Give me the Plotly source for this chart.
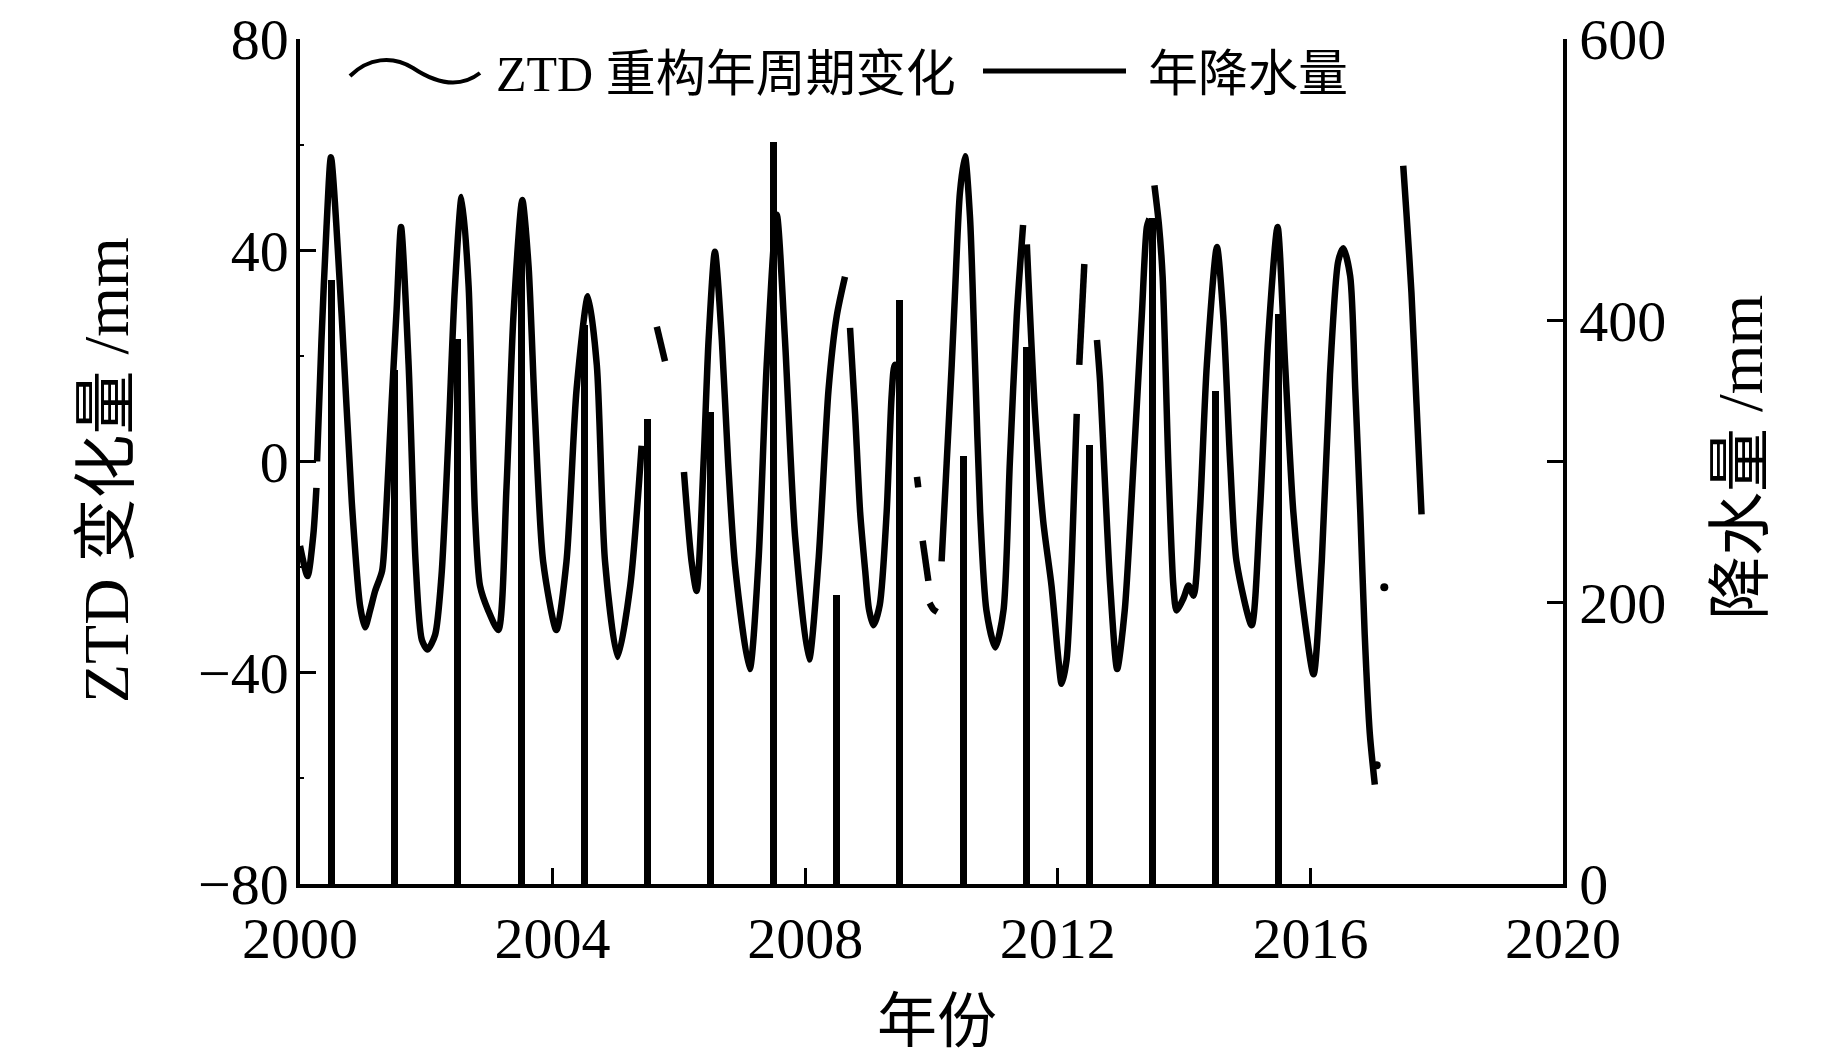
import plotly.graph_objects as go

# annual precipitation (right axis, mm), one bar per year at mid-year
years = list(range(2000, 2016))
precip = [429, 365, 387, 475, 397, 330, 335, 527, 205, 415, 304, 381, 312, 473, 350, 405]

# reconstructed annual ZTD signal (left axis, mm); None marks a data gap
ztd_year = [
    2000.00, 2000.12, 2000.21, 2000.26, None,
    2000.27, 2000.34, 2000.42, 2000.49, 2000.66, 2000.82, 2000.95, 2001.03, 2001.11,
    2001.19, 2001.30, 2001.36, 2001.45, 2001.53, 2001.60, 2001.72, 2001.83, 2001.93,
    2002.02, 2002.14, 2002.24, 2002.35, 2002.45, 2002.56, 2002.67, 2002.77, 2002.85,
    2002.98, 2003.14, 2003.27, 2003.38, 2003.52, 2003.62, 2003.72, 2003.85, 2004.06,
    2004.22, 2004.38, 2004.56, 2004.70, 2004.83, 2005.03, 2005.23, 2005.41, None,
    2005.65, 2005.78, None,
    2006.08, 2006.20, 2006.28, 2006.39, 2006.47, 2006.57, 2006.68, 2006.78, 2006.89,
    2007.12, 2007.26, 2007.39, 2007.55, 2007.68, 2007.84, 2008.06, 2008.21, 2008.37,
    2008.50, 2008.63, None,
    2008.71, 2008.79, 2008.87, 2008.95, 2009.01, 2009.08, 2009.18, 2009.29, 2009.37,
    2009.42, 2009.47, None,
    2009.77, 2009.79, None,
    2009.86, 2009.95, None,
    2009.97, 2010.03, 2010.09, None,
    2010.16, 2010.24, 2010.32, 2010.37, 2010.45, 2010.53, 2010.61, 2010.69, 2010.77,
    2010.87, 2011.01, 2011.14, 2011.24, 2011.35, 2011.45, None,
    2011.51, 2011.64, 2011.77, 2011.90, 2012.01, 2012.06, 2012.14, 2012.22, 2012.30, None,
    2012.34, 2012.42, None,
    2012.62, 2012.67, 2012.75, 2012.83, 2012.94, 2013.06, 2013.20, 2013.33, 2013.41,
    2013.45, None,
    2013.53, 2013.60, 2013.66, 2013.75, 2013.83, 2013.88, 2013.99, 2014.07, 2014.15,
    2014.25, 2014.36, 2014.52, 2014.62, 2014.73, 2014.83, 2015.07, 2015.20, 2015.33,
    2015.48, 2015.60, 2015.73, 2015.89, 2016.05, 2016.18, 2016.31, 2016.44, 2016.52,
    2016.63, 2016.71, 2016.79, 2016.86, 2016.94, 2017.02, None,
    2017.47, 2017.52, 2017.60, 2017.68, 2017.76,
]
ztd_value = [
    -16.0, -21.7, -14.0, -5.0, None,
    0.0, 23.0, 44.4, 57.6, 27.6, -7.7, -27.2, -31.4, -28.2,
    -24.5, -20.7, -10.5, 10.9, 28.8, 44.4, 18.3, -18.9, -33.8,
    -35.6, -32.8, -21.7, 4.4, 32.3, 50.1, 33.2, -9.6, -23.5,
    -28.2, -31.9, -4.9, 27.6, 49.5, 36.9, 9.0, -18.9, -31.9,
    -18.9, 13.7, 31.3, 18.3, -18.9, -37.0, -23.5, 3.0, None,
    25.5, 19.0, None,
    -2.0, -18.9, -24.5, -0.3, 23.0, 39.7, 23.0, -0.3, -19.8,
    -39.3, -18.9, 18.3, 46.7, 23.0, -14.2, -37.5, -18.9, 13.7,
    27.6, 35.0, None,
    25.3, 9.0, -9.6, -20.7, -28.0, -31.0, -27.2, -9.6, 12.7,
    18.3, 18.0, None,
    -2.9, -4.9, None,
    -15.0, -22.6, None,
    -26.8, -28.0, -28.5, None,
    -18.9, -0.3, 18.3, 31.3, 50.9, 57.8, 46.2, 18.3, -9.6,
    -28.2, -35.2, -28.2, -0.3, 27.6, 44.8, None,
    41.1, 9.0, -11.4, -23.5, -37.5, -42.1, -37.5, -18.9, 9.0, None,
    18.3, 37.4, None,
    23.0, 15.0, -4.9, -23.5, -39.3, -28.2, -0.3, 27.6, 44.4,
    46.0, None,
    52.3, 45.0, 35.0, -0.3, -23.5, -28.2, -25.9, -23.5, -25.4,
    -9.6, 18.3, 40.6, 27.6, -0.3, -18.9, -31.0, -9.6, 23.0,
    44.4, 18.3, -9.6, -28.2, -40.3, -18.9, 16.5, 37.9, 40.4,
    35.1, 13.7, -9.6, -32.8, -51.4, -61.2, None,
    56.0, 47.2, 32.0, 11.0, -10.0,
]

# isolated single samples
ztd_dot_year = [2017.05, 2017.17]
ztd_dot_value = [-57.5, -23.8]

FONT = "Liberation Serif, Noto Sans CJK SC"
# the page body adds an 8 px margin, so the figure is built 8 px smaller/shifted
PAD = 8
W, H = 1843 - 2 * PAD, 1063 - 2 * PAD
# plot-area edges in screen pixels
L, R, T, B = 300, 1563, 39, 884


def px(fx):
    return (fx - L) / (R - L)


def py(fy):
    return (B - fy) / (B - T)


fig = go.Figure()

fig.add_trace(go.Bar(
    x=[y + 0.5 for y in years], y=precip, yaxis="y2", width=0.11,
    marker=dict(color="black", line=dict(width=0)), showlegend=False,
))
fig.add_trace(go.Scatter(
    x=ztd_year, y=ztd_value, mode="lines",
    line=dict(color="black", width=6.5, shape="spline", smoothing=0.7),
    connectgaps=False, showlegend=False,
))
fig.add_trace(go.Scatter(
    x=ztd_dot_year, y=ztd_dot_value, mode="markers",
    marker=dict(color="black", size=8), showlegend=False,
))

# hand-drawn legend: wavy glyph + straight glyph
wave_pts = [(350, 76), (368, 58), (392, 55), (413, 68), (434, 82), (458, 90), (480, 73)]
p = [(px(a), py(b)) for a, b in wave_pts]
wave_path = (f"M {p[0][0]},{p[0][1]} C {p[1][0]},{p[1][1]} {p[2][0]},{p[2][1]} {p[3][0]},{p[3][1]} "
             f"C {p[4][0]},{p[4][1]} {p[5][0]},{p[5][1]} {p[6][0]},{p[6][1]}")
fig.add_shape(type="path", path=wave_path, xref="paper", yref="paper",
              line=dict(color="black", width=4))
fig.add_shape(type="line", xref="paper", yref="paper",
              x0=px(983), x1=px(1126), y0=py(71), y1=py(71),
              line=dict(color="black", width=5))

ann_font = dict(family=FONT, size=50, color="black")
fig.add_annotation(text="ZTD 重构年周期变化", x=px(494), y=py(74), xref="paper", yref="paper",
                   xanchor="left", yanchor="middle", showarrow=False, font=ann_font)
fig.add_annotation(text="年降水量", x=px(1146), y=py(74), xref="paper", yref="paper",
                   xanchor="left", yanchor="middle", showarrow=False, font=ann_font)

title_font = dict(family=FONT, size=64, color="black")
fig.add_annotation(text="ZTD 变化量 /mm", x=px(106), y=py(470), xref="paper", yref="paper",
                   xanchor="center", yanchor="middle",
                   textangle=-90, showarrow=False, font=title_font)
fig.add_annotation(text="降水量 /mm", x=px(1740), y=py(458), xref="paper", yref="paper",
                   xanchor="center", yanchor="middle",
                   textangle=-90, showarrow=False, font=title_font)
fig.add_annotation(text="年份", x=px(937), y=py(1022), xref="paper", yref="paper",
                   xanchor="center", yanchor="middle",
                   showarrow=False, font=dict(family=FONT, size=60, color="black"))

tick_font = dict(family=FONT, size=58, color="black")
fig.update_layout(
    width=W, height=H,
    margin=dict(l=L - PAD, r=W - (R - PAD), t=T - PAD, b=H - (B - PAD), autoexpand=False),
    plot_bgcolor="white", paper_bgcolor="white",
    bargap=0,
    xaxis=dict(
        range=[2000, 2020], tickvals=[2000, 2004, 2008, 2012, 2016, 2020],
        ticks="inside", ticklen=16, tickwidth=3, tickcolor="black",
        showline=True, linewidth=4, linecolor="black", showgrid=False, zeroline=False,
        tickfont=tick_font, ticklabelstandoff=0, automargin=False,
        ticklabeloverflow="allow",
    ),
    yaxis=dict(
        range=[-80, 80], tickvals=[-80, -40, 0, 40, 80],
        ticks="inside", ticklen=16, tickwidth=3, tickcolor="black",
        minor=dict(tickvals=[-60, -20, 20, 60], ticks="inside", ticklen=4, tickwidth=2,
                   tickcolor="black"),
        showline=True, linewidth=3.5, linecolor="black", showgrid=False, zeroline=False,
        tickfont=tick_font, ticklabelstandoff=-4, automargin=False,
        ticklabeloverflow="allow",
    ),
    yaxis2=dict(
        range=[0, 600], overlaying="y", side="right",
        tickvals=[0, 200, 300, 400, 600], ticktext=["0", "200", "", "400", "600"],
        ticks="inside", ticklen=16, tickwidth=3, tickcolor="black",
        showline=True, linewidth=3.5, linecolor="black", showgrid=False, zeroline=False,
        tickfont=tick_font, ticklabelstandoff=1, automargin=False,
        ticklabeloverflow="allow",
    ),
)

fig.write_html("out.html")
